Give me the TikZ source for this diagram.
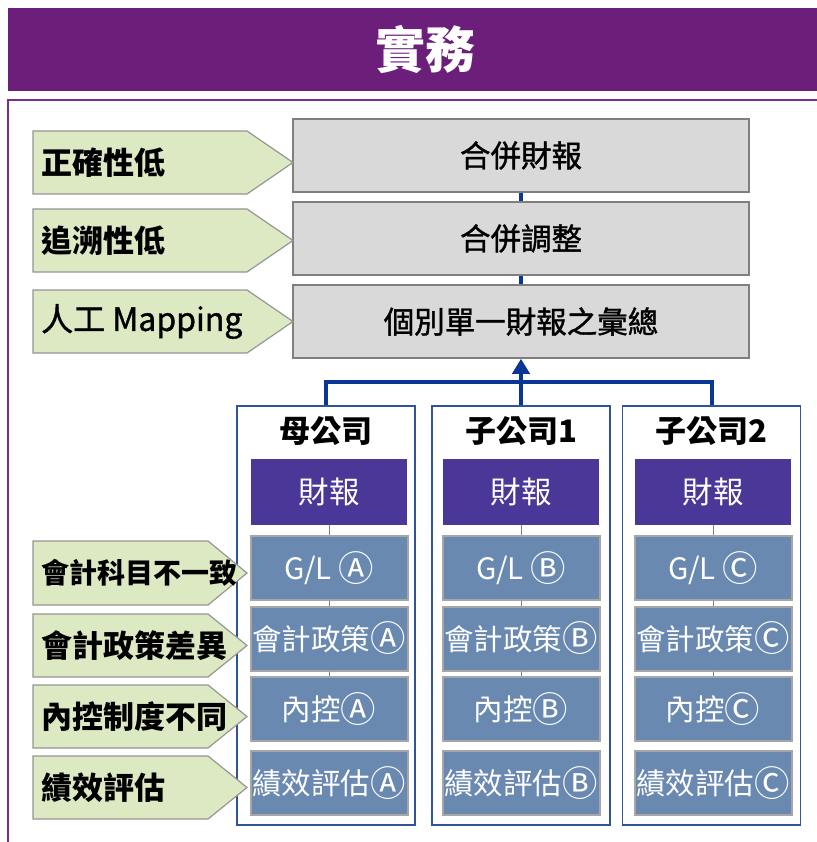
\documentclass[tikz,border=0pt]{standalone}
\usepackage{graphicx}
\usepackage{fontspec}
\setmainfont{Noto Sans CJK TC}
\newfontfamily\midfont[FakeBold=1.2]{Noto Sans CJK TC}
\usetikzlibrary{arrows.meta}
\definecolor{barpurple}{RGB}{107,31,123}
\definecolor{framepurple}{RGB}{120,45,145}
\definecolor{taggreen}{RGB}{221,233,195}
\definecolor{tagedge}{RGB}{150,150,150}
\definecolor{boxgray}{RGB}{217,217,217}
\definecolor{boxedge}{RGB}{127,127,127}
\definecolor{linkblue}{RGB}{10,55,150}
\definecolor{coedge}{RGB}{47,85,151}
\definecolor{fspurple}{RGB}{74,55,152}
\definecolor{itemblue}{RGB}{106,137,176}
\definecolor{itemedge}{RGB}{166,166,166}
\newcommand{\encl}[1]{\raisebox{-0.05em}{\scalebox{1.2}{#1}}}
\tikzset{
  titlebar/.style={fill=barpurple, text=white, minimum width=834pt, minimum height=83pt, inner sep=0pt, font=\fontsize{50}{52}\selectfont\bfseries},
  tagshape/.style={draw=tagedge, fill=taggreen, line width=1.2pt},
  tagtext/.style={anchor=west, inner sep=0pt, font=\fontsize{31}{33}\selectfont\bfseries},
  graybox/.style={draw=boxedge, fill=boxgray, line width=1.5pt, minimum width=456pt, minimum height=73pt, inner sep=0pt, font=\fontsize{30.5}{32}\midfont},
  blueline/.style={draw=linkblue, line width=4pt},
  coframe/.style={draw=coedge, fill=white, line width=1.5pt, minimum width=178pt, minimum height=419pt, inner sep=0pt},
  cotitle/.style={inner sep=0pt, font=\fontsize{31}{33}\selectfont\bfseries},
  fsbox/.style={fill=fspurple, text=white, minimum width=156pt, minimum height=66pt, inner sep=0pt, font=\fontsize{30.5}{32}\selectfont},
  itembox/.style={draw=itemedge, fill=itemblue, text=white, line width=2pt, minimum width=157pt, minimum height=64pt, inner sep=0pt, font=\fontsize{29.5}{32}\selectfont},
  itemline/.style={draw=boxedge, line width=1pt}
}
\begin{document}
\begin{tikzpicture}[x=1pt, y=-1pt]
\useasboundingbox (0,0) rectangle (816,842);
\fill[white] (0,0) rectangle (816,842);

% title and outer frame
\node[titlebar] (title) at (425,49.5) {實務};
\draw[framepurple, line width=2pt] (830,100) -- (8,100) -- (8,842);

% consolidation steps
\node[graybox] (cfs) at (521,155.5) {合併財報};
\node[graybox] (adj) at (521,238.5) {合併調整};
\node[graybox] (sum) at (521,321.5) {個別單一財報之彙總};
\draw[blueline] (cfs) -- (adj);
\draw[blueline] (adj) -- (sum);

% problems at group level
\draw[tagshape] (33,131) -- (247,131) -- (293,162.5) -- (247,194) -- (33,194) -- cycle;
\node[tagtext] (tag1) at (41,162.5) {正確性低};
\draw[tagshape] (33,209) -- (247,209) -- (293,240.5) -- (247,272) -- (33,272) -- cycle;
\node[tagtext] (tag2) at (41,240.5) {追溯性低};
\draw[tagshape] (33,290) -- (247,290) -- (293,321.5) -- (247,353) -- (33,353) -- cycle;
\node[tagtext, font=\fontsize{32}{34}\midfont] (tag3) at (41,321.5) {人工 Mapping};

% companies
\node[coframe] (mom) at (326,615.5) {};
\node[coframe] (sub1) at (521,615.5) {};
\node[coframe] (sub2) at (711.5,615.5) {};
\draw[blueline] (mom.north) -- ++(0,-23) -| (sub2.north);
\draw[blueline, -{Triangle[length=15pt, width=17pt]}] (sub1.north) -- (sum.south);

\node[cotitle] (momt) at (326,431) {母公司};
\node[cotitle] (sub1t) at (521,431) {子公司1};
\node[cotitle] (sub2t) at (711.5,431) {子公司2};

\node[fsbox] (momfs) at (329,491.5) {財報};
\node[itembox] (momgl) at (329,568) {G/L \encl{Ⓐ}};
\node[itembox] (mompol) at (329,638.5) {會計政策\encl{Ⓐ}};
\node[itembox] (momic) at (329,709) {內控\encl{Ⓐ}};
\node[itembox] (momkpi) at (329,783) {績效評估\encl{Ⓐ}};

\node[fsbox] (sub1fs) at (521,491.5) {財報};
\node[itembox] (sub1gl) at (521,568) {G/L \encl{Ⓑ}};
\node[itembox] (sub1pol) at (521,638.5) {會計政策\encl{Ⓑ}};
\node[itembox] (sub1ic) at (521,709) {內控\encl{Ⓑ}};
\node[itembox] (sub1kpi) at (521,783) {績效評估\encl{Ⓑ}};

\node[fsbox] (sub2fs) at (713,491.5) {財報};
\node[itembox] (sub2gl) at (713,568) {G/L \encl{Ⓒ}};
\node[itembox] (sub2pol) at (713,638.5) {會計政策\encl{Ⓒ}};
\node[itembox] (sub2ic) at (713,709) {內控\encl{Ⓒ}};
\node[itembox] (sub2kpi) at (713,783) {績效評估\encl{Ⓒ}};

\draw[itemline] (momfs) -- (momgl);
\draw[itemline] (momgl) -- (mompol);
\draw[itemline] (mompol) -- (momic);
\draw[itemline] (sub1fs) -- (sub1gl);
\draw[itemline] (sub1gl) -- (sub1pol);
\draw[itemline] (sub1pol) -- (sub1ic);
\draw[itemline] (sub2fs) -- (sub2gl);
\draw[itemline] (sub2gl) -- (sub2pol);
\draw[itemline] (sub2pol) -- (sub2ic);

% problems at company level
\draw[tagshape] (33,541) -- (208,541) -- (247,573) -- (208,605) -- (33,605) -- cycle;
\node[tagtext, font=\fontsize{28}{30}\selectfont\bfseries] (tag4) at (41,573) {會計科目不一致};
\draw[tagshape] (33,614) -- (208,614) -- (247,645.5) -- (208,677) -- (33,677) -- cycle;
\node[tagtext] (tag5) at (41,645.5) {會計政策差異};
\draw[tagshape] (33,685) -- (208,685) -- (247,716.5) -- (208,748) -- (33,748) -- cycle;
\node[tagtext] (tag6) at (41,716.5) {內控制度不同};
\draw[tagshape] (33,756) -- (208,756) -- (247,787.5) -- (208,819) -- (33,819) -- cycle;
\node[tagtext] (tag7) at (41,787.5) {績效評估};
\end{tikzpicture}
\end{document}
